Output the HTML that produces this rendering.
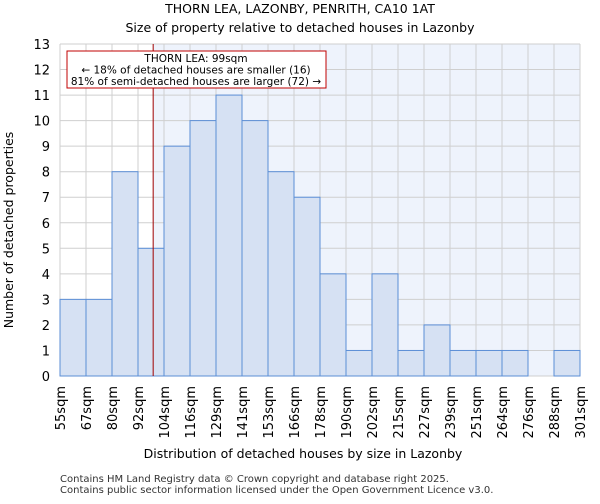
<!DOCTYPE html>
<html><head><meta charset="utf-8"><style>
body{margin:0;background:#fff;font-family:"DejaVu Sans","Liberation Sans",sans-serif}
</style></head><body>
<svg id="c" width="600" height="500" xmlns="http://www.w3.org/2000/svg" font-family="DejaVu Sans, Liberation Sans, sans-serif"></svg>
<script>
const categories=["55sqm","67sqm","80sqm","92sqm","104sqm","116sqm","129sqm","141sqm","153sqm","166sqm","178sqm","190sqm","202sqm","215sqm","227sqm","239sqm","251sqm","264sqm","276sqm","288sqm","301sqm"];
const binStarts=[55,67,80,92,104,116,129,141,153,166,178,190,202,215,227,239,251,264,276,288,301];
const counts=[3,3,8,5,9,10,11,10,8,7,4,1,4,1,2,1,1,1,0,1];
const yTicks=[0,1,2,3,4,5,6,7,8,9,10,11,12,13];
const subjectSize=99;
const NS="http://www.w3.org/2000/svg";
const svg=document.getElementById('c');
const L=60,R=580,T=44,B=376,yMax=13;
const bw=(R-L)/counts.length;
function x(i){return L+i*bw;}
function y(v){return B-(B-T)*v/yMax;}
function xv(s){let i=0;while(i<binStarts.length-2&&s>=binStarts[i+1])i++;return x(i)+bw*(s-binStarts[i])/(binStarts[i+1]-binStarts[i]);}
function mk(t,a,txt){const e=document.createElementNS(NS,t);for(const k in a)e.setAttribute(k,a[k]);if(txt!==undefined)e.textContent=txt;svg.appendChild(e);return e;}
const sx=xv(subjectSize);
let e;
e=mk('rect',{x:L,y:T,width:R-L,height:B-T,fill:'#ffffff'});


e=mk('rect',{x:sx,y:T,width:R-sx,height:B-T,fill:'#eef3fc'});


for(let i=0;i<=counts.length;i++){e=mk('line',{x1:x(i),x2:x(i),y1:T,y2:B,stroke:'#cfcfcf','stroke-width':1});

}
yTicks.forEach(t=>{e=mk('line',{x1:L,x2:R,y1:y(t),y2:y(t),stroke:'#cfcfcf','stroke-width':1});


e=mk('text',{x:L-10,y:y(t)+5,'text-anchor':'end','font-size':13,fill:'#000'},String(t));

});
counts.forEach((v,i)=>{if(v<=0)return;e=mk('rect',{x:x(i),y:y(v),width:bw,height:B-y(v),fill:'#d6e1f3',stroke:'#5b8ed6','stroke-width':1});

});
categories.forEach((c,i)=>{const px=x(i),py=B+10;e=mk('text',{x:px+5,y:py,'text-anchor':'end','font-size':13,transform:`rotate(-90 ${px+5} ${py})`},c);

});
e=mk('line',{x1:sx,x2:sx,y1:T,y2:B,stroke:'#a00000','stroke-width':1});


e=mk('rect',{x:67,y:51,width:259,height:37,fill:'#fff',stroke:'#c00000','stroke-width':1});


["THORN LEA: 99sqm","← 18% of detached houses are smaller (16)","81% of semi-detached houses are larger (72) →"].forEach((s,k)=>{e=mk('text',{x:196,y:62+k*11.5,'text-anchor':'middle','font-size':10.5},s);

});
e=mk('text',{x:300,y:13,'text-anchor':'middle','font-size':12.5},"THORN LEA, LAZONBY, PENRITH, CA10 1AT");


e=mk('text',{x:300,y:32,'text-anchor':'middle','font-size':12.5},"Size of property relative to detached houses in Lazonby");


e=mk('text',{x:303,y:458,'text-anchor':'middle','font-size':12.5},"Distribution of detached houses by size in Lazonby");


e=mk('text',{x:13,y:230,'text-anchor':'middle','font-size':12.5,transform:'rotate(-90 13 230)'},"Number of detached properties");


e=mk('text',{x:60,y:482,'font-size':10,fill:'#333'},"Contains HM Land Registry data © Crown copyright and database right 2025.");


e=mk('text',{x:60,y:493,'font-size':10,fill:'#333'},"Contains public sector information licensed under the Open Government Licence v3.0.");


</script>
</body></html>
